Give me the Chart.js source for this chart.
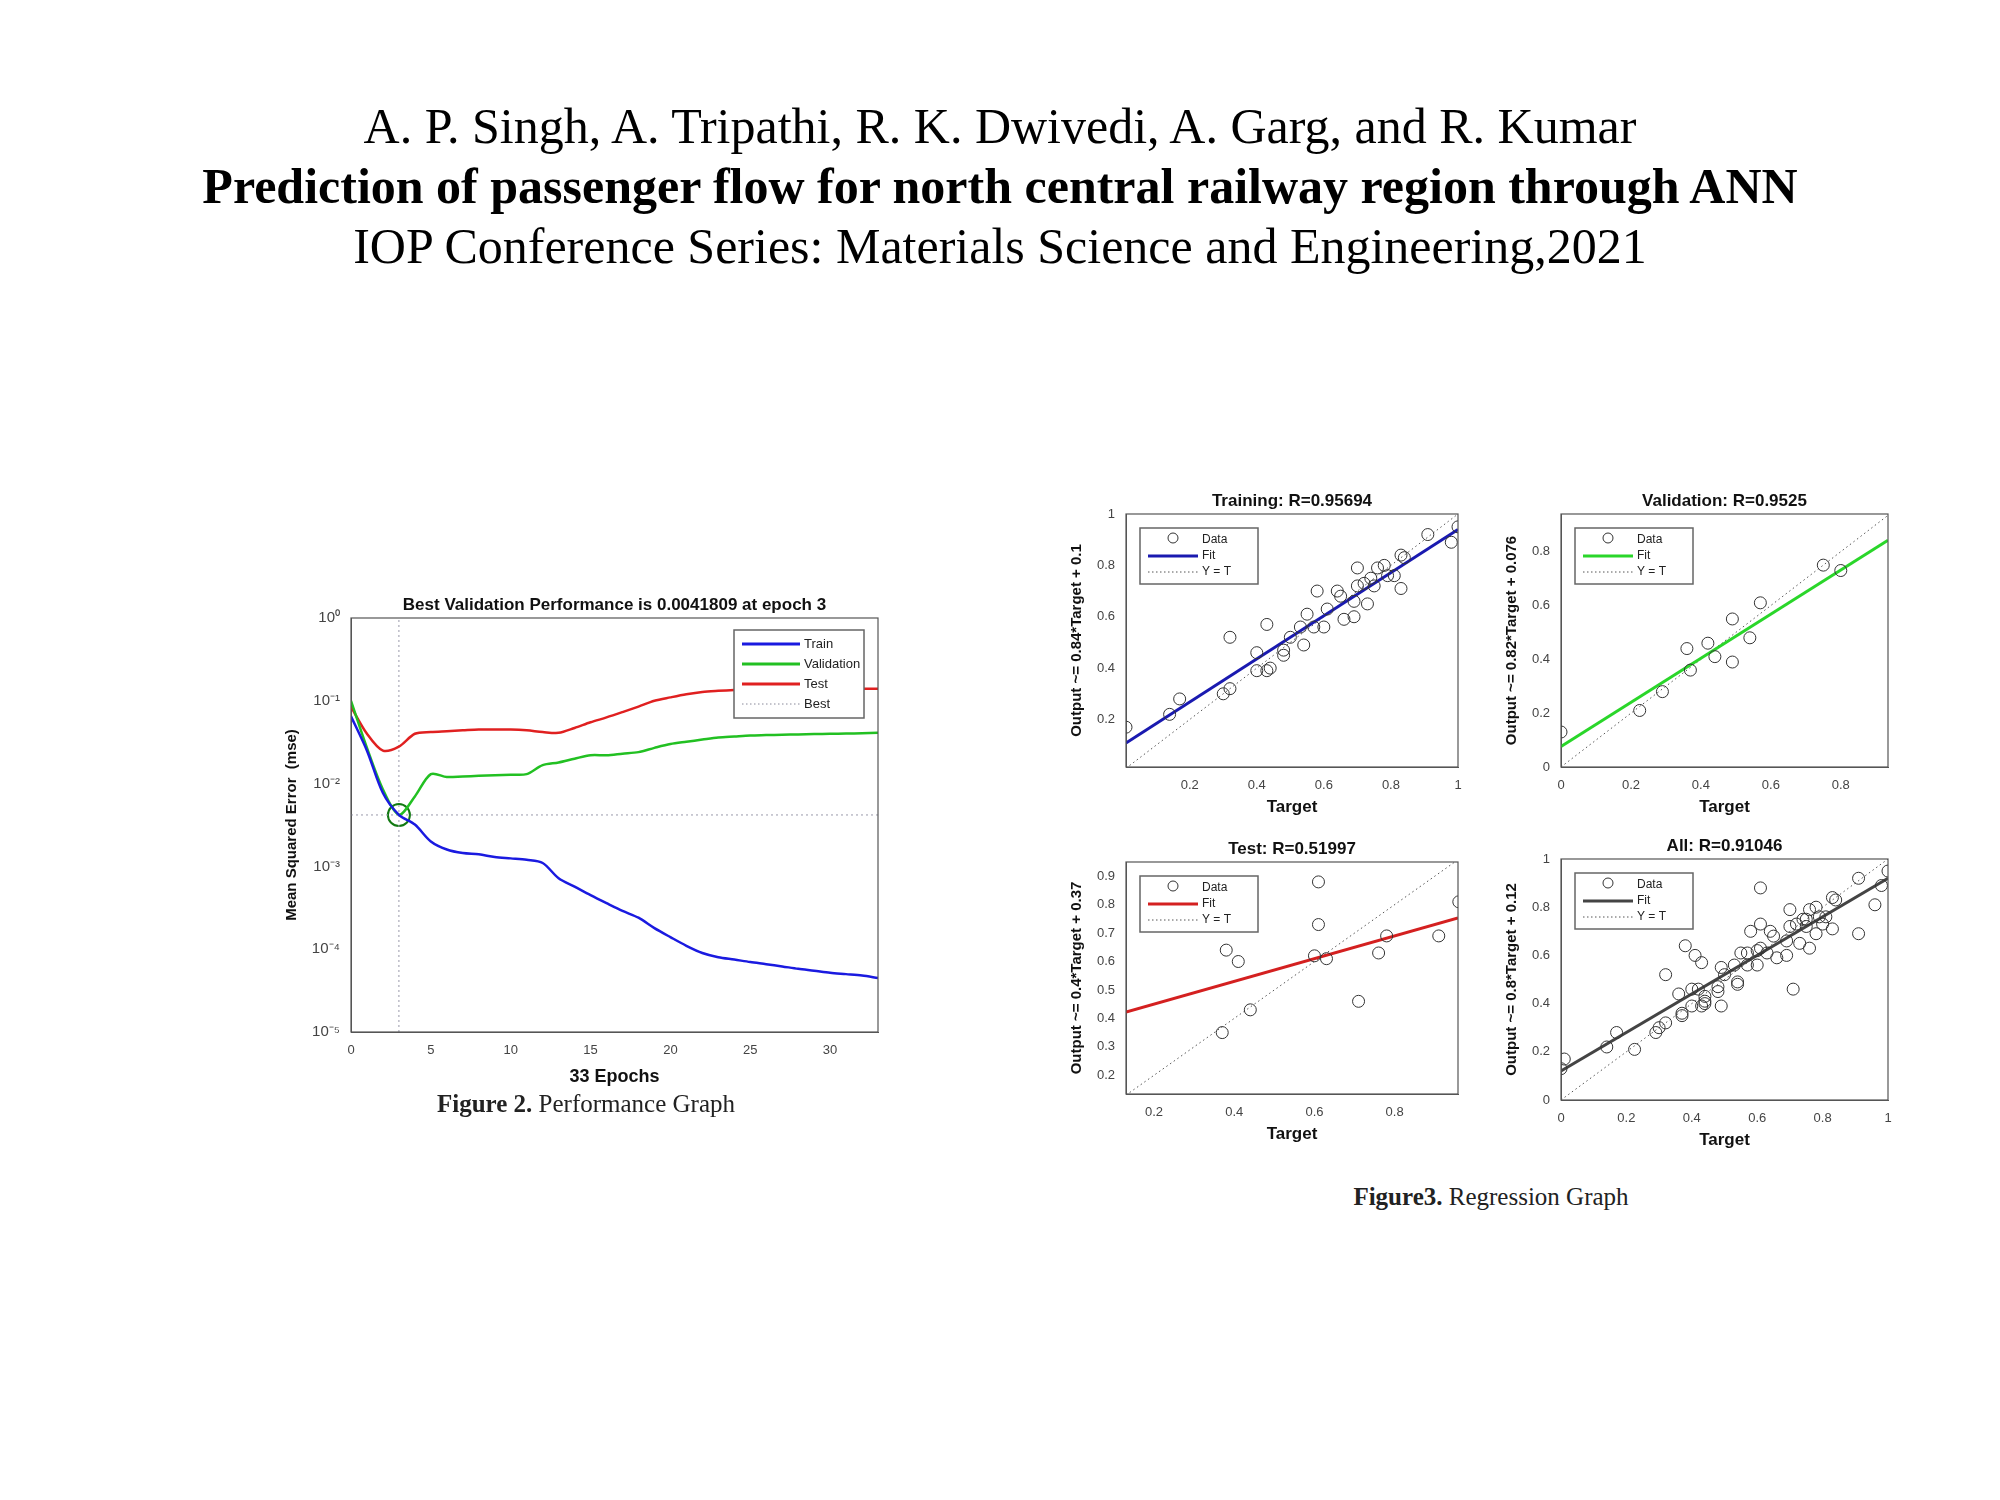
<!DOCTYPE html>
<html>
<head>
<meta charset="utf-8">
<script src="https://cdn.jsdelivr.net/npm/chart.js@4.4.0/dist/chart.umd.min.js"></script>
<style>
  body { margin: 0; width: 2000px; height: 1500px; background: #fff; position: relative; }
  .hdr { position: absolute; left: 0; width: 2000px; text-align: center; font-family: "Liberation Serif", serif; font-size: 50px; color: #000; }
  .cap { position: absolute; font-family: "Liberation Serif", serif; font-size: 25px; color: #222; white-space: nowrap; transform: translateX(-50%); }
  .box { position: absolute; }
</style>
</head>
<body>
<div class="hdr" style="top:97px">A. P. Singh, A. Tripathi, R. K. Dwivedi, A. Garg, and R. Kumar</div>
<div class="hdr" style="top:157px;font-weight:bold">Prediction of passenger flow for north central railway region through ANN</div>
<div class="hdr" style="top:217px">IOP Conference Series: Materials Science and Engineering,2021</div>

<div class="box" style="left:279px;top:582px;width:612px;height:510px"><canvas id="perf"></canvas></div>
<div class="cap" style="left:586px;top:1090px"><b>Figure 2.</b> Performance Graph</div>

<div class="box" style="left:1064px;top:484px;width:404px;height:338px"><canvas id="train"></canvas></div>
<div class="box" style="left:1499px;top:484px;width:399px;height:338px"><canvas id="valid"></canvas></div>
<div class="box" style="left:1064px;top:832px;width:404px;height:317px"><canvas id="test"></canvas></div>
<div class="box" style="left:1499px;top:829px;width:399px;height:326px"><canvas id="all"></canvas></div>
<div class="cap" style="left:1491px;top:1183px"><b>Figure3.</b> Regression Graph</div>

<script>
// performance curves, epochs 0..33
const epochs = Array.from({length: 34}, (_, i) => i);
const trainMse = [0.065, 0.025, 0.0077, 0.0042, 0.0032, 0.002, 0.0016, 0.00145, 0.0014, 0.0013, 0.00125, 0.0012, 0.0011, 0.00072, 0.00057, 0.00045,
  0.00036, 0.00029, 0.00024, 0.00018, 0.00014, 0.00011, 0.00009, 0.00008, 0.000075, 0.00007, 0.000066, 0.000062, 0.000058, 0.000055,
  0.000052, 0.00005, 0.000048, 0.000045];
const validMse = [0.1, 0.027, 0.0085, 0.0042, 0.007, 0.013, 0.012, 0.0122, 0.0124, 0.0126, 0.0128, 0.013, 0.0167, 0.018, 0.02, 0.022,
  0.022, 0.023, 0.024, 0.027, 0.03, 0.032, 0.034, 0.036, 0.037, 0.038, 0.0385, 0.039, 0.0393, 0.0396, 0.04, 0.0402, 0.0405, 0.041];
const testMse = [0.085, 0.04, 0.025, 0.028, 0.04, 0.042, 0.043, 0.044, 0.045, 0.045, 0.045, 0.044, 0.042, 0.041, 0.047, 0.055,
  0.063, 0.073, 0.085, 0.1, 0.11, 0.12, 0.128, 0.132, 0.135, 0.137, 0.138, 0.139, 0.14, 0.14, 0.14, 0.14, 0.14, 0.14];
const bestEpoch = 3;
const bestPerf = 0.0041809;
const epochTicks = [0, 5, 10, 15, 20, 25, 30];
const logTicks = ['10⁰', '10⁻¹', '10⁻²', '10⁻³', '10⁻⁴', '10⁻⁵'];

// regression data [target, output]
const trainPts = [[0.01,0.17],[0.14,0.22],[0.17,0.28],[0.3,0.3],[0.32,0.32],[0.32,0.52],[0.4,0.39],[0.43,0.39],[0.44,0.4],[0.4,0.46],
  [0.43,0.57],[0.48,0.45],[0.48,0.47],[0.5,0.52],[0.53,0.56],[0.54,0.49],[0.55,0.61],[0.57,0.56],[0.58,0.7],[0.6,0.56],[0.61,0.63],
  [0.64,0.7],[0.65,0.68],[0.66,0.59],[0.69,0.66],[0.69,0.6],[0.7,0.79],[0.7,0.72],[0.72,0.73],[0.73,0.65],[0.74,0.75],[0.75,0.72],
  [0.76,0.79],[0.78,0.8],[0.79,0.76],[0.81,0.76],[0.83,0.71],[0.83,0.84],[0.84,0.83],[0.91,0.92],[0.98,0.89],[1.0,0.95]];
const validPts = [[0,0.13],[0.225,0.21],[0.29,0.28],[0.36,0.44],[0.37,0.36],[0.42,0.46],[0.44,0.41],[0.49,0.55],[0.49,0.39],
  [0.54,0.48],[0.57,0.61],[0.75,0.75],[0.8,0.73]];
const testPts = [[0.37,0.35],[0.38,0.64],[0.41,0.6],[0.44,0.43],[0.6,0.62],[0.61,0.88],[0.61,0.73],[0.63,0.61],[0.71,0.46],
  [0.76,0.63],[0.78,0.69],[0.91,0.69],[0.96,0.81]];
const allPts = trainPts.concat(validPts, testPts);

// fit coefficients [slope, intercept]
const trainFit = [0.84, 0.1];
const validFit = [0.82, 0.076];
const testFit = [0.4, 0.37];
const allFit = [0.8, 0.12];

const SANS = '"Liberation Sans", Arial, sans-serif';

// MATLAB style box + title + legend inside the axes
const matlabBox = {
  id: 'matlabBox',
  afterDraw(chart, args, opts) {
    const ctx = chart.ctx, a = chart.chartArea;
    ctx.save();
    ctx.strokeStyle = '#555';
    ctx.lineWidth = 1.2;
    ctx.setLineDash([]);
    ctx.strokeRect(a.left, a.top, a.right - a.left, a.bottom - a.top);
    ctx.fillStyle = '#111';
    ctx.font = 'bold ' + opts.titleSize + 'px ' + SANS;
    ctx.textAlign = 'center';
    ctx.textBaseline = 'bottom';
    ctx.fillText(opts.title, (a.left + a.right) / 2, a.top - 4);
    // legend
    const items = opts.items;
    const lh = opts.lh, bw = opts.bw;
    const bx = opts.right ? a.right - bw - 14 : a.left + 14;
    const by = a.top + opts.dy;
    ctx.fillStyle = '#fff';
    ctx.fillRect(bx, by, bw, lh * items.length + 8);
    ctx.strokeStyle = '#666';
    ctx.lineWidth = 1.5;
    ctx.strokeRect(bx, by, bw, lh * items.length + 8);
    ctx.font = opts.legSize + 'px ' + SANS;
    ctx.textAlign = 'left';
    ctx.textBaseline = 'middle';
    items.forEach((it, i) => {
      const y = by + 4 + lh * (i + 0.5);
      const x0 = bx + 8, x1 = bx + 8 + opts.sw;
      ctx.strokeStyle = it.color;
      if (it.kind === 'circle') {
        ctx.lineWidth = 1;
        ctx.beginPath();
        ctx.arc((x0 + x1) / 2, y - 2, 5, 0, Math.PI * 2);
        ctx.stroke();
      } else {
        ctx.lineWidth = it.kind === 'dot' ? 1 : 3;
        ctx.setLineDash(it.kind === 'dot' ? [1.5, 2.5] : []);
        ctx.beginPath(); ctx.moveTo(x0, y); ctx.lineTo(x1, y); ctx.stroke();
        ctx.setLineDash([]);
      }
      ctx.fillStyle = '#222';
      ctx.fillText(it.label, x1 + 4, y);
    });
    ctx.restore();
  }
};

function fixedAxes(yw, xh) {
  return {
    y: s => { s.width = yw; },
    x: s => { s.height = xh; }
  };
}

const fmt = v => String(+(+v).toFixed(2));

// performance graph
const pf = fixedAxes(72, 60);
new Chart(document.getElementById('perf'), {
  type: 'line',
  data: {
    labels: epochs,
    datasets: [
      { label: 'Train', data: trainMse, borderColor: '#1a1ae0', borderWidth: 2.5, pointRadius: 0, tension: 0.3 },
      { label: 'Validation', data: validMse, borderColor: '#22c022', borderWidth: 2.5, pointRadius: 0, tension: 0.3 },
      { label: 'Test', data: testMse, borderColor: '#e02020', borderWidth: 2.5, pointRadius: 0, tension: 0.3 },
      { label: 'Best', data: epochs.map(e => ({x: e, y: bestPerf})), borderColor: '#99a', borderWidth: 1, borderDash: [2, 3], pointRadius: 0 },
      { label: 'BestV', data: [{x: bestEpoch, y: 1e-5}, {x: bestEpoch, y: 1}], borderColor: '#99a', borderWidth: 1, borderDash: [2, 3], pointRadius: 0 },
      { label: 'Circle', data: [{x: bestEpoch, y: bestPerf}], borderColor: '#127a12', borderWidth: 2, pointRadius: 11, pointBackgroundColor: 'rgba(0,0,0,0)', showLine: false }
    ]
  },
  plugins: [matlabBox],
  options: {
    responsive: true, maintainAspectRatio: false, animation: false,
    layout: { padding: { top: 36, right: 10 } },
    plugins: {
      legend: { display: false }, tooltip: { enabled: false },
      matlabBox: {
        title: 'Best Validation Performance is 0.0041809 at epoch 3', titleSize: 17,
        right: true, dy: 12, bw: 130, lh: 20, sw: 58, legSize: 13,
        items: [
          { label: 'Train', color: '#1a1ae0', kind: 'line' },
          { label: 'Validation', color: '#22c022', kind: 'line' },
          { label: 'Test', color: '#e02020', kind: 'line' },
          { label: 'Best', color: '#889', kind: 'dot' }
        ]
      }
    },
    scales: {
      x: {
        type: 'linear', min: 0, max: 33, afterFit: pf.x,
        grid: { display: false }, border: { color: '#555' },
        afterBuildTicks: s => { s.ticks = epochTicks.map(v => ({ value: v })); },
        ticks: { color: '#444', font: { family: SANS, size: 13 } },
        title: { display: true, text: '33 Epochs', color: '#111', font: { family: SANS, size: 18, weight: 'bold' } }
      },
      y: {
        type: 'logarithmic', min: 1e-5, max: 1, afterFit: pf.y,
        grid: { display: false }, border: { color: '#555' },
        afterBuildTicks: s => { s.ticks = [1, 0.1, 0.01, 0.001, 0.0001, 0.00001].map(v => ({ value: v })); },
        ticks: {
          color: '#444', font: { family: SANS, size: 15 },
          callback: v => logTicks[Math.round(-Math.log10(v))]
        },
        title: { display: true, text: 'Mean Squared Error  (mse)', color: '#111', font: { family: SANS, size: 15, weight: 'bold' } }
      }
    }
  }
});

function regChart(id, title, pts, fit, color, xr, yr, yTicks, yLabel, ticks) {
  const ax = fixedAxes(62, 55);
  new Chart(document.getElementById(id), {
    type: 'scatter',
    data: {
      datasets: [
        { label: 'Data', data: pts.map(p => ({x: p[0], y: p[1]})), pointRadius: 6, borderColor: '#333', borderWidth: 1,
          pointBackgroundColor: 'rgba(0,0,0,0)' },
        { label: 'Fit', data: [{x: xr[0], y: fit[0] * xr[0] + fit[1]}, {x: xr[1], y: fit[0] * xr[1] + fit[1]}],
          showLine: true, pointRadius: 0, borderColor: color, borderWidth: 3 },
        { label: 'Y = T', data: [{x: xr[0], y: xr[0]}, {x: xr[1], y: xr[1]}],
          showLine: true, pointRadius: 0, borderColor: '#555', borderWidth: 1, borderDash: [1.5, 3] }
      ]
    },
    plugins: [matlabBox],
    options: {
      responsive: true, maintainAspectRatio: false, animation: false,
      layout: { padding: { top: 30, right: 10 } },
      plugins: {
        legend: { display: false }, tooltip: { enabled: false },
        matlabBox: {
          title: title, titleSize: 17, right: false, dy: 14, bw: 118, lh: 16, sw: 50, legSize: 12,
          items: [
            { label: 'Data', color: '#333', kind: 'circle' },
            { label: 'Fit', color: color, kind: 'line' },
            { label: 'Y = T', color: '#555', kind: 'dot' }
          ]
        }
      },
      scales: {
        x: {
          type: 'linear', min: xr[0], max: xr[1], afterFit: ax.x,
          grid: { display: false }, border: { color: '#555' },
          afterBuildTicks: s => { s.ticks = ticks.map(v => ({ value: v })); },
          ticks: { color: '#444', font: { family: SANS, size: 13 }, callback: fmt },
          title: { display: true, text: 'Target', color: '#111', font: { family: SANS, size: 17, weight: 'bold' } }
        },
        y: {
          type: 'linear', min: yr[0], max: yr[1], afterFit: ax.y,
          grid: { display: false }, border: { color: '#555' },
          afterBuildTicks: s => { s.ticks = yTicks.map(v => ({ value: v })); },
          ticks: { color: '#444', font: { family: SANS, size: 13 }, callback: fmt },
          title: { display: true, text: yLabel, color: '#111', font: { family: SANS, size: 15, weight: 'bold' } }
        }
      }
    }
  });
}

regChart('train', 'Training: R=0.95694', trainPts, trainFit, '#1a1ab0', [0.01, 1], [0.015, 1], [0.2, 0.4, 0.6, 0.8, 1],
  'Output ~= 0.84*Target + 0.1', [0.2, 0.4, 0.6, 0.8, 1]);
regChart('valid', 'Validation: R=0.9525', validPts, validFit, '#2ad62a', [0, 0.935], [0, 0.94], [0, 0.2, 0.4, 0.6, 0.8],
  'Output ~= 0.82*Target + 0.076', [0, 0.2, 0.4, 0.6, 0.8]);
regChart('test', 'Test: R=0.51997', testPts, testFit, '#d42020', [0.13, 0.958], [0.134, 0.95], [0.2, 0.3, 0.4, 0.5, 0.6, 0.7, 0.8, 0.9],
  'Output ~= 0.4*Target + 0.37', [0.2, 0.4, 0.6, 0.8]);
regChart('all', 'All: R=0.91046', allPts, allFit, '#444', [0, 1], [0, 1], [0, 0.2, 0.4, 0.6, 0.8, 1],
  'Output ~= 0.8*Target + 0.12', [0, 0.2, 0.4, 0.6, 0.8, 1]);
</script>
</body>
</html>
